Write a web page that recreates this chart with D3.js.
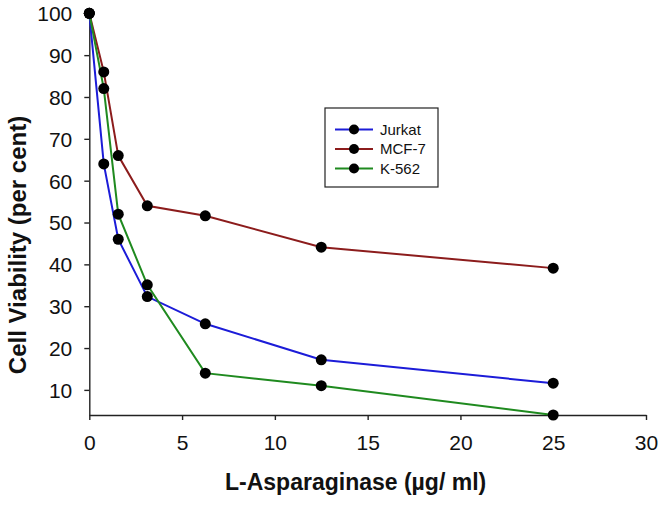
<!DOCTYPE html>
<html>
<head>
<meta charset="utf-8">
<script src="https://cdn.jsdelivr.net/npm/d3@7"></script>
<style>
  html, body { margin: 0; padding: 0; background: #fff; }
  svg { display: block; font-family: "Liberation Sans", Arial, sans-serif; }
</style>
</head>
<body>
<svg id="chart" width="662" height="505"></svg>
<script>
// ---- data ----
const concentrations = [0, 0.78, 1.56, 3.125, 6.25, 12.5, 25];
const seriesNames = ["Jurkat", "MCF-7", "K-562"];
const jurkat = [100, 64, 46, 32.3, 25.8, 17.2, 11.6];
const mcf7   = [100, 86, 66, 54, 51.6, 44.1, 39.1];
const k562   = [100, 82, 52, 35.1, 14, 11, 4];
const xTicks = [0, 5, 10, 15, 20, 25, 30];
const yTicks = [10, 20, 30, 40, 50, 60, 70, 80, 90, 100];
const xTitle = "L-Asparaginase (µg/ ml)";
const yTitle = "Cell Viability (per cent)";

const seriesValues = [jurkat, mcf7, k562];
const colors = ["#1c1cd8", "#8c1c1c", "#1f8a1f"];

const svg = d3.select("#chart");

const x = d3.scaleLinear().domain([0, 30]).range([89.3, 646]);
const y = d3.scaleLinear().domain([4, 100]).range([415, 13.3]);

// axes
const xAxis = d3.axisBottom(x).tickValues(xTicks).tickSize(5).tickPadding(15).tickSizeOuter(0);
const yAxis = d3.axisLeft(y).tickValues(yTicks).tickSize(5).tickPadding(12).tickSizeOuter(0);

const gx = svg.append("g").attr("transform", `translate(0,${y.range()[0]})`).call(xAxis);
const gy = svg.append("g").attr("transform", `translate(${x.range()[0]},0)`).call(yAxis);

[gx, gy].forEach(g => {
  g.select(".domain").attr("stroke", "#222").attr("stroke-width", 1.4);
  g.selectAll(".tick line").attr("stroke", "#222").attr("stroke-width", 1.4);
  g.selectAll(".tick text")
    .attr("fill", "#111")
    .style("font-family", "'Liberation Sans', Arial, sans-serif")
    .style("font-size", "21px");
});
gy.selectAll(".tick text").attr("dy", "0.35em");

// titles
svg.append("text")
  .attr("x", 225)
  .attr("y", 490)
  .attr("font-size", 23)
  .attr("font-weight", "bold")
  .attr("fill", "#111")
  .text(xTitle);

svg.append("text")
  .attr("transform", "translate(26,245) rotate(-90)")
  .attr("text-anchor", "middle")
  .attr("font-size", 24)
  .attr("font-weight", "bold")
  .attr("fill", "#111")
  .text(yTitle);

// lines
const line = d3.line()
  .x((d, i) => x(concentrations[i]))
  .y(d => y(d));

const drawOrder = [1, 0, 2];
drawOrder.forEach(si => {
  svg.append("path")
    .datum(seriesValues[si])
    .attr("fill", "none")
    .attr("stroke", colors[si])
    .attr("stroke-width", 2)
    .attr("d", line);
});

drawOrder.forEach(si => {
  svg.append("g")
    .selectAll("circle")
    .data(seriesValues[si])
    .join("circle")
    .attr("cx", (d, i) => x(concentrations[i]))
    .attr("cy", d => y(d))
    .attr("r", 5.5)
    .attr("fill", "#000");
});

// legend
const legend = svg.append("g");
legend.append("rect")
  .attr("x", 325).attr("y", 108)
  .attr("width", 113).attr("height", 79)
  .attr("fill", "#fff")
  .attr("stroke", "#222")
  .attr("stroke-width", 1.2);

const rowY = [129.5, 149, 168.5];
seriesNames.forEach((name, i) => {
  const g = legend.append("g");
  g.append("line")
    .attr("x1", 335).attr("x2", 373)
    .attr("y1", rowY[i]).attr("y2", rowY[i])
    .attr("stroke", colors[i]).attr("stroke-width", 2);
  g.append("circle")
    .attr("cx", 354).attr("cy", rowY[i]).attr("r", 5)
    .attr("fill", "#000");
  g.append("text")
    .attr("x", 380).attr("y", rowY[i])
    .attr("dy", "0.35em")
    .attr("font-size", 15)
    .attr("fill", "#111")
    .text(name);
});
</script>
</body>
</html>
